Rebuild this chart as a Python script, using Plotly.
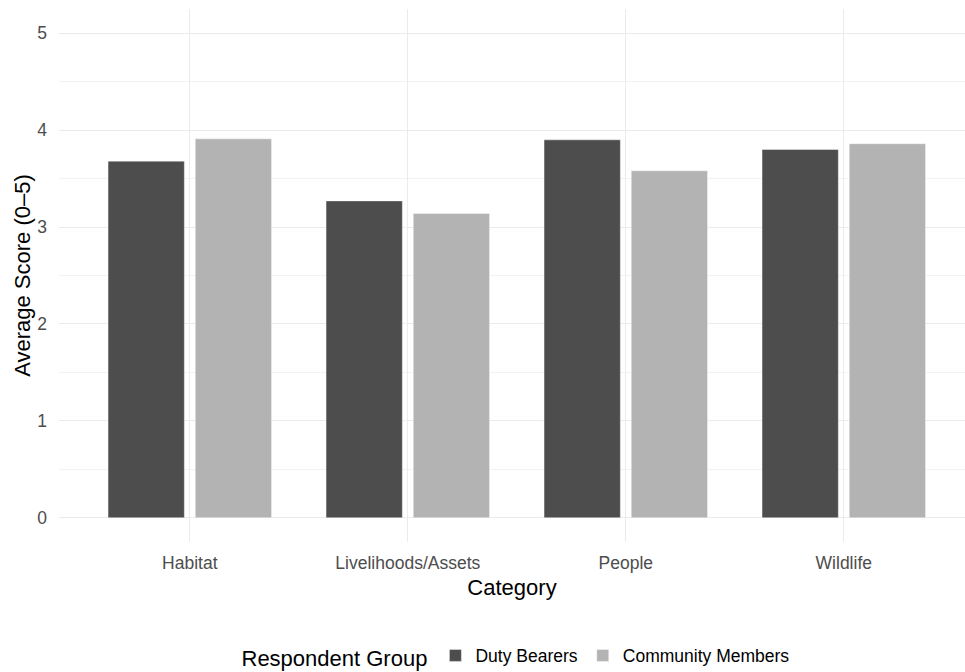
import plotly.graph_objects as go

categories = ["Habitat", "Livelihoods/Assets", "People", "Wildlife"]
duty_bearers = [3.68, 3.27, 3.90, 3.80]
community_members = [3.91, 3.14, 3.58, 3.86]
series_names = ["Duty Bearers", "Community Members"]
series_colors = ["#4d4d4d", "#b3b3b3"]
y_ticks = [0, 1, 2, 3, 4, 5]

FONT = "Liberation Sans, Arial, Helvetica, sans-serif"

fig = go.Figure()
for name, vals, col in zip(series_names, [duty_bearers, community_members], series_colors):
    fig.add_trace(go.Bar(
        x=categories, y=vals, name=name,
        marker=dict(color=col, line=dict(color="rgba(255,255,255,0.7)", width=0.6)),
    ))

fig.update_layout(
    width=965, height=672,
    margin=dict(l=59, r=0, t=9, b=130, autoexpand=False),
    plot_bgcolor="white", paper_bgcolor="white",
    font=dict(family=FONT, size=17.5, color="#4d4d4d"),
    barmode="group", bargap=0.2, bargroupgap=0.125,
    showlegend=True,
    legend=dict(
        orientation="h",
        xref="container", yref="container",
        x=517/965, xanchor="center",
        y=1-657/672, yanchor="middle",
        font=dict(size=17.5, color="black", family=FONT),
        title=dict(text="Respondent Group", side="left", font=dict(size=22, color="black", family=FONT)),
        itemwidth=30,
        traceorder="normal",
    ),
    xaxis=dict(
        range=[-0.6, 3.556],
        showgrid=True, gridcolor="#ebebeb", gridwidth=1.1,
        showline=False, zeroline=False,
        ticks="", ticklabelstandoff=8,
        tickfont=dict(size=17.5, color="#4d4d4d", family=FONT),
        title=dict(text="Category", font=dict(size=22, color="black", family=FONT), standoff=8),
    ),
    yaxis=dict(
        range=[-0.25, 5.25],
        tickvals=y_ticks,
        showgrid=True, gridcolor="#ebebeb", gridwidth=1.1,
        minor=dict(dtick=0.5, tick0=0, showgrid=True, gridcolor="#f2f2f2", gridwidth=0.7),
        showline=False, zeroline=False,
        ticks="", ticklabelstandoff=11,
        tickfont=dict(size=17.5, color="#4d4d4d", family=FONT),
        title=dict(text="Average Score (0–5)", font=dict(size=22, color="black", family=FONT), standoff=0),
    ),
)

fig.write_html(
    "out.html",
    config={"displayModeBar": False},
    post_script="document.body.style.margin='0';document.body.style.overflow='hidden';",
)
